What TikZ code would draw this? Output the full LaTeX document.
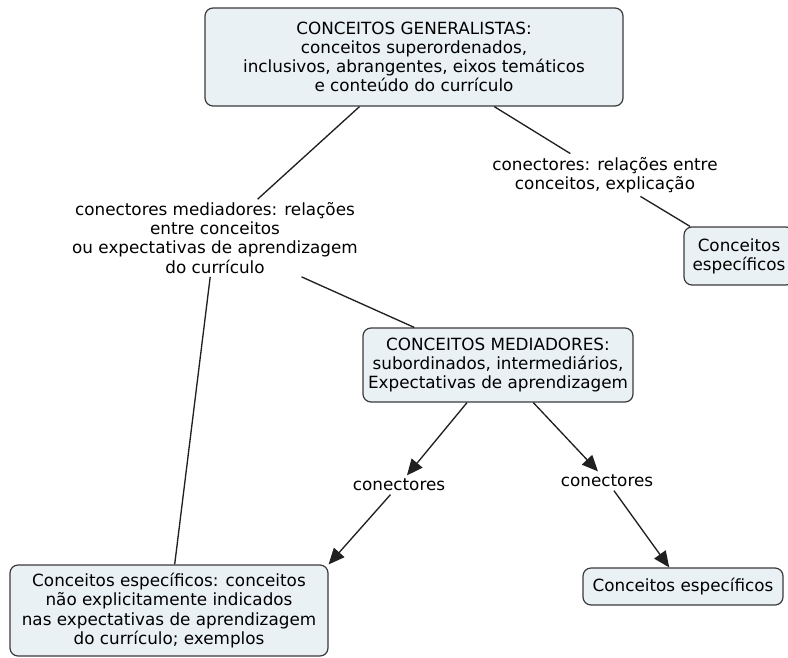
\documentclass[tikz,border=0pt]{standalone}
\usepackage{fontspec}
\setmainfont{DejaVu Sans}
\usetikzlibrary{arrows.meta}

\definecolor{conceptfill}{HTML}{E9F1F5}
\definecolor{conceptline}{HTML}{3A3A3A}
\definecolor{linkline}{HTML}{202020}

\tikzset{
  concept/.style={draw=conceptline,fill=conceptfill,line width=0.9pt,
    rounded corners=6pt,align=center,inner sep=0pt},
  linkword/.style={align=center,inner sep=2.5pt},
  link/.style={draw=linkline,line width=1pt},
  arrowlink/.style={link,-{Triangle[length=12pt,width=10.5pt]}},
}

\begin{document}
\begin{tikzpicture}[x=0.75pt,y=-0.75pt,font=\fontsize{12.6}{14.3}\selectfont]
  \path[use as bounding box,clip] (0,0) rectangle (788,657);

  % concepts
  \node[concept,minimum width=313.5pt,minimum height=73.5pt] (general) at (414,57)
    {CONCEITOS GENERALISTAS:\\conceitos superordenados,\\inclusivos, abrangentes, eixos temáticos\\e conteúdo do currículo};
  \node[concept,minimum width=202.5pt,minimum height=55.5pt] (mediator) at (498,365)
    {CONCEITOS MEDIADORES:\\subordinados, intermediários,\\Expectativas de aprendizagem};
  \node[concept,minimum width=82.5pt,minimum height=43.5pt] (specA) at (739,256)
    {Conceitos\\específicos};
  \node[concept,minimum width=238.5pt,minimum height=68.25pt] (specB) at (169,610.5)
    {Conceitos específicos: conceitos\\não explicitamente indicados\\nas expectativas de aprendizagem\\do currículo; exemplos};
  \node[concept,minimum width=150pt,minimum height=27.75pt] (specC) at (683,586.5)
    {Conceitos específicos};

  % linking phrases
  \node[linkword] (mlink) at (215,238)
    {conectores mediadores: relações\\entre conceitos\\ou expectativas de aprendizagem\\do currículo};
  \node[linkword] (rlink) at (605,175) {conectores: relações entre\\conceitos, explicação};
  \node[linkword] (lconn) at (399,485) {conectores};
  \node[linkword] (rconn) at (607,481) {conectores};

  % connectors
  \draw[link] (general) -- (mlink);
  \draw[link] (general) -- (rlink);
  \draw[link] (rlink) -- (specA);
  \draw[link] (mlink) -- (mediator);
  \draw[link] (mlink) -- (specB);
  \draw[arrowlink] (mediator) -- (lconn);
  \draw[arrowlink] (lconn) -- (specB.north east);
  \draw[arrowlink] (mediator) -- (rconn);
  \draw[arrowlink] (rconn) -- (specC);
\end{tikzpicture}
\end{document}
